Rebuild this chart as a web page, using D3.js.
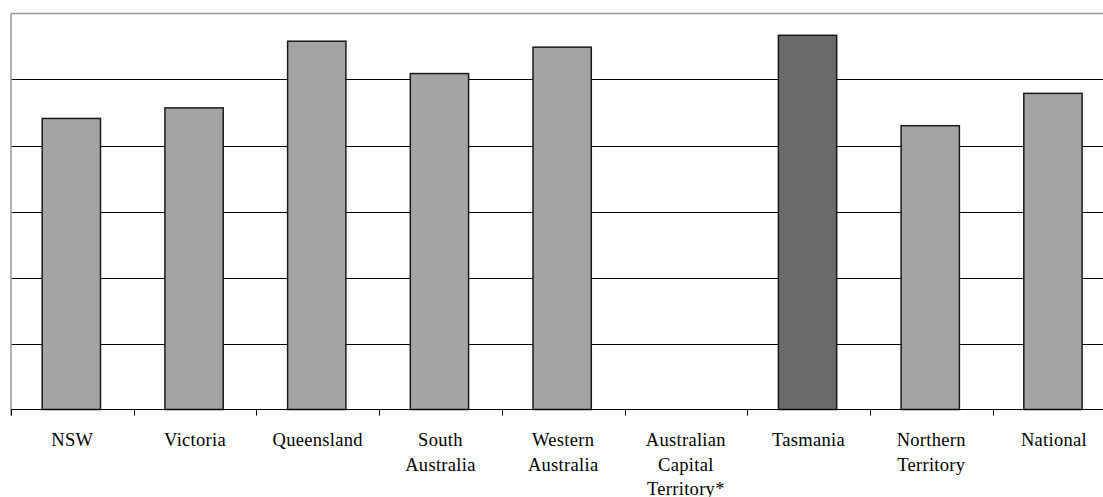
<!DOCTYPE html>
<html>
<head>
<meta charset="utf-8">
<script src="https://cdn.jsdelivr.net/npm/d3@7"></script>
<style>
  html, body { margin: 0; padding: 0; background: #fff; }
  svg { display: block; }
</style>
</head>
<body>
<svg id="chart" width="1103" height="497"></svg>
<script>
// Data
const categories = ["NSW", "Victoria", "Queensland", "South Australia", "Western Australia",
  "Australian Capital Territory*", "Tasmania", "Northern Territory", "National"];
const labelLines = [["NSW"], ["Victoria"], ["Queensland"], ["South", "Australia"], ["Western", "Australia"],
  ["Australian", "Capital", "Territory*"], ["Tasmania"], ["Northern", "Territory"], ["National"]];
const values = [4.41, 4.57, 5.58, 5.09, 5.49, null, 5.67, 4.30, 4.79];
const highlighted = ["Tasmania"];
const yTicks = [0, 1, 2, 3, 4, 5, 6];

const svg = d3.select("#chart");
const left = 11, step = 122.7;
const x = d3.scaleBand().domain(categories).range([left, left + step * categories.length]).padding(0);
const y = d3.scaleLinear().domain([0, 6]).range([409.5, 13.5]);

// gridlines
svg.append("g").selectAll("line").data(yTicks.filter(t => t > 0 && t < 6)).join("line")
  .attr("x1", left).attr("x2", 1103)
  .attr("y1", d => Math.round(y(d)) + 0.5).attr("y2", d => Math.round(y(d)) + 0.5)
  .attr("stroke", "#000").attr("stroke-width", 1);

// frame top & left (gray)
svg.append("line").attr("x1", left).attr("x2", 1103).attr("y1", y(6)).attr("y2", y(6))
  .attr("stroke", "#999").attr("stroke-width", 1.5);
svg.append("line").attr("x1", left).attr("x2", left).attr("y1", y(6)).attr("y2", y(0) + 6)
  .attr("stroke", "#999").attr("stroke-width", 1.5);

// bars
const bw = x.bandwidth() * 0.475;
svg.append("g").selectAll("rect").data(categories.map((c, i) => ({c, v: values[i]})).filter(d => d.v != null))
  .join("rect")
  .attr("x", d => x(d.c) + x.bandwidth() / 2 - bw / 2 - 1)
  .attr("width", bw)
  .attr("y", d => y(d.v))
  .attr("height", d => y(0) - y(d.v))
  .attr("fill", d => highlighted.includes(d.c) ? "#6a6a6a" : "#a4a4a4")
  .attr("stroke", "#1a1a1a").attr("stroke-width", 1.5);

// x axis
const xAxis = svg.append("g").attr("transform", `translate(0,${y(0)})`);
xAxis.append("line").attr("x1", left).attr("x2", 1103).attr("y1", 0).attr("y2", 0)
  .attr("stroke", "#000").attr("stroke-width", 1.2);
xAxis.selectAll("line.tick").data(categories).join("line").attr("class", "tick")
  .attr("x1", d => Math.round(x(d)) + 0.5).attr("x2", d => Math.round(x(d)) + 0.5)
  .attr("y1", 0).attr("y2", 6).attr("stroke", "#000").attr("stroke-width", 1);

const labels = xAxis.selectAll("text").data(categories).join("text")
  .style("font-family", '"Liberation Serif"')
  .style("font-size", "18.5px")
  .style("letter-spacing", "0.3px")
  .attr("text-anchor", "middle")
  .attr("fill", "#000");
labels.each(function(d, i) {
  const t = d3.select(this);
  labelLines[i].forEach((ln, j) => {
    t.append("tspan").attr("x", x(d) + x.bandwidth() / 2).attr("y", 36.5 + j * 24.5).text(ln);
  });
});
</script>
</body>
</html>
